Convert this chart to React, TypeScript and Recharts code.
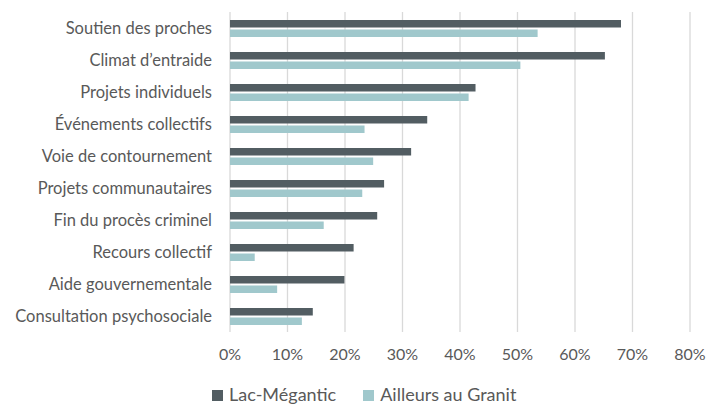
import React from 'react';
import { BarChart, Bar, XAxis, YAxis, CartesianGrid, Legend } from 'recharts';

const categories = [
  'Soutien des proches',
  'Climat d’entraide',
  'Projets individuels',
  'Événements collectifs',
  'Voie de contournement',
  'Projets communautaires',
  'Fin du procès criminel',
  'Recours collectif',
  'Aide gouvernementale',
  'Consultation psychosociale',
];
const lacMegantic = [0.68, 0.652, 0.427, 0.343, 0.315, 0.268, 0.256, 0.215, 0.199, 0.144];
const ailleurs = [0.535, 0.505, 0.415, 0.234, 0.249, 0.23, 0.163, 0.043, 0.082, 0.125];
const xTicks = [0, 0.1, 0.2, 0.3, 0.4, 0.5, 0.6, 0.7, 0.8];
const seriesNames = ['Lac-Mégantic', 'Ailleurs au Granit'];
const seriesColors = ['#525d62', '#a0c8cc'];

const data = categories.map((name, i) => ({ name, lac: lacMegantic[i], ailleurs: ailleurs[i] }));

const FONT = 'Lato, "Open Sans", sans-serif';
const TEXT = '#595959';

function LegendContent() {
  return (
    <div style={{ display: 'flex', alignItems: 'center', marginLeft: 212, fontFamily: FONT, fontSize: 18, color: TEXT, lineHeight: '20px', height: 20 }}>
      {seriesNames.map((n, i) => (
        <div key={n} style={{ display: 'flex', alignItems: 'center', marginRight: 27 }}>
          <span style={{ display: 'inline-block', width: 11, height: 11, background: seriesColors[i], marginRight: 6, marginTop: 2 }} />
          <span>{n}</span>
        </div>
      ))}
    </div>
  );
}

export default function App() {
  return (
    <div style={{ position: 'absolute', left: 0, top: 0, background: '#fff' }}>
      <BarChart
        width={706}
        height={406}
        data={data}
        layout="vertical"
        margin={{ top: 12, right: 16, bottom: 0, left: 0 }}
        barCategoryGap="23%"
        barGap={2}
        style={{ fontFamily: FONT }}
      >
        <CartesianGrid horizontal={false} stroke="#d9d9d9" strokeWidth={1.3} />
        <XAxis
          type="number"
          domain={[0, 0.8]}
          ticks={xTicks}
          tickFormatter={(v: number) => `${Math.round(v * 100)}%`}
          axisLine={false}
          tickLine={false}
          tickSize={0}
          tickMargin={17}
          height={34}
          tick={{ fill: TEXT, fontSize: 16, fontFamily: FONT }}
          interval={0}
        />
        <YAxis
          type="category"
          dataKey="name"
          width={230}
          axisLine={false}
          tickLine={false}
          tickSize={0}
          tickMargin={18}
          interval={0}
          tick={{ fill: TEXT, fontSize: 16.5, fontFamily: FONT }}
        />
        <Legend
          verticalAlign="bottom"
          height={40}
          content={<LegendContent />}
          wrapperStyle={{ left: 0, top: 384, width: 706 }}
        />
        <Bar dataKey="lac" name={seriesNames[0]} fill={seriesColors[0]} barSize={7.5} isAnimationActive={false} />
        <Bar dataKey="ailleurs" name={seriesNames[1]} fill={seriesColors[1]} barSize={7.5} isAnimationActive={false} />
      </BarChart>
    </div>
  );
}
